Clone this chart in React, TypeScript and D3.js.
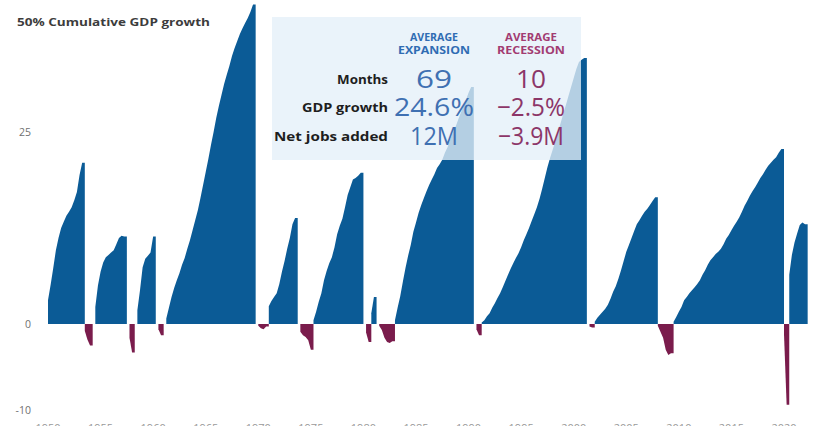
import React from "react";
import * as d3 from "d3";

// ---- data (quarterly cumulative real GDP change, % since cycle start) ----
const exp1950 = [3.1, 5.1, 7.3, 9.6, 11.2, 12.5, 13.3, 14.1, 14.6, 15.2, 16.1, 17.2, 19.4, 21.0];
const rec1953 = [-0.8, -1.8, -2.5];
const exp1954 = [2.2, 5.0, 6.8, 8.0, 8.7, 9.0, 9.3, 9.6, 10.4, 11.2, 11.5, 11.4];
const rec1957 = [-1.6, -3.3];
const exp1958 = [1.8, 4.4, 7.4, 8.5, 8.9, 9.3, 11.4];
const rec1960 = [-0.6, -1.3];
const exp1961 = [0.7, 2.1, 3.5, 4.7, 5.7, 6.6, 7.7, 8.6, 9.8, 10.9, 12.2, 13.5, 14.8, 16.4, 18.1, 19.8, 21.5, 23.3, 25.0, 28.2, 30.9, 33.4, 35.9, 38.0, 40.0, 42.3, 44.1, 45.7, 47.3, 48.6, 49.8, 50.9, 52.3, 54.0];
const rec1970 = [-0.2, -0.5, -0.6, -0.3];
const exp1971 = [2.3, 3.0, 3.5, 4.0, 5.2, 6.8, 8.2, 9.8, 11.2, 13.0, 13.8];
const rec1974 = [-0.9, -1.3, -1.5, -1.9, -3.0];
const exp1975 = [0.5, 1.6, 2.9, 4.0, 5.7, 6.9, 7.9, 8.7, 10.0, 11.7, 12.8, 13.7, 15.2, 16.8, 17.8, 18.8, 19.0, 19.3, 19.7];
const rec1980 = [-1.0, -2.1];
const exp1980 = [1.4, 3.5];
const rec1981 = [-0.2, -0.7, -1.6, -2.1, -2.2, -2.0];
const exp1983 = [0.5, 2.1, 3.6, 5.5, 7.3, 8.9, 10.3, 12.0, 13.2, 14.5, 15.5, 16.4, 17.3, 18.1, 18.8, 19.5, 20.3, 20.8, 21.4, 22.3, 23.0, 24.0, 24.9, 26.1, 27.7, 29.3, 30.7, 32.3, 33.9, 35.2];
const rec1990 = [-0.6, -1.3];
const exp1991 = [0.2, 0.5, 1.0, 1.4, 2.1, 2.7, 3.4, 4.0, 4.8, 5.6, 6.4, 7.2, 7.9, 8.6, 9.2, 10.0, 10.9, 11.7, 12.5, 13.4, 14.3, 15.2, 16.3, 17.6, 19.0, 20.4, 21.6, 22.7, 23.8, 25.0, 27.0, 29.1, 31.1, 33.2, 35.2, 37.3, 39.3, 40.9, 41.4, 41.8];
const rec2001 = [-0.3, -0.4];
const exp2002 = [0.3, 0.8, 1.2, 1.6, 2.0, 2.5, 3.3, 4.2, 4.9, 5.9, 7.0, 8.2, 9.4, 10.3, 11.2, 12.1, 13.0, 13.5, 14.1, 14.6, 15.0, 15.5, 16.0, 16.5];
const rec2008 = [-0.2, -0.9, -1.6, -3.0, -3.6, -3.4];
const exp2009 = [0.3, 0.9, 1.6, 2.2, 3.1, 3.5, 4.0, 4.4, 4.8, 5.2, 5.7, 6.4, 7.0, 7.7, 8.3, 8.7, 9.1, 9.4, 9.8, 10.4, 11.1, 11.6, 12.2, 12.8, 13.3, 13.9, 14.6, 15.4, 16.0, 16.7, 17.3, 17.8, 18.4, 19.0, 19.5, 20.1, 20.6, 21.0, 21.4, 21.7, 22.3, 22.8];
const rec2020 = [-1.2, -9.4];
const exp2020 = [6.4, 9.0, 10.6, 11.8, 12.9, 13.2, 13.0];

// first quarter (decimal year) of each phase
const expansionStarts = [1950.0, 1954.5, 1958.5, 1961.25, 1971.0, 1975.25, 1980.75, 1983.0, 1991.25, 2002.0, 2009.5, 2020.5];
const expansionSeries = [exp1950, exp1954, exp1958, exp1961, exp1971, exp1975, exp1980, exp1983, exp1991, exp2002, exp2009, exp2020];
const recessionStarts = [1953.5, 1957.75, 1960.5, 1970.0, 1974.0, 1980.25, 1981.5, 1990.75, 2001.5, 2008.0, 2020.0];
const recessionSeries = [rec1953, rec1957, rec1960, rec1970, rec1974, rec1980, rec1981, rec1990, rec2001, rec2008, rec2020];

const yTickValues = [25, 0, -10];
const xTickYears = [1950, 1955, 1960, 1965, 1970, 1975, 1980, 1985, 1990, 1995, 2000, 2005, 2010, 2015, 2020];

const rowLabels = ["Months", "GDP growth", "Net jobs added"];
const expansionStats = ["69", "24.6%", "12M"];
const recessionStats = ["10", "\u22122.5%", "\u22123.9M"];

const W = 813;
const H = 426;
const BLUE = "#0b5b96";
const MAROON = "#7a1c4c";
const FONT = "'Open Sans', 'Liberation Sans', sans-serif";

export default function App() {
  const x = d3.scaleLinear().domain([1950, 2020]).range([48, 784]);
  const y = d3.scaleLinear().domain([-10, 0, 25, 50]).range([410, 324, 132, 22]);

  const area = d3
    .area<{ t: number; v: number }>()
    .x((d) => x(d.t))
    .y0(() => y(0))
    .y1((d) => y(d.v))
    .curve(d3.curveLinear);

  const toPts = (start: number, vals: number[]) => {
    const pts = vals.map((v, i) => ({ t: start + i * 0.25, v }));
    pts.push({ t: start + vals.length * 0.25, v: vals[vals.length - 1] });
    return pts;
  };

  const rowLabelLen = [51, 86, 114];
  const expLen = [36, 80, 48];
  const recLen = [30, 68, 66];
  const baselines = [88, 116, 145];

  return (
    <svg width={W} height={H} style={{ position: "absolute", left: 0, top: 0, background: "#fff" }} fontFamily={FONT}>
      {/* expansions */}
      {expansionSeries.map((vals, i) => (
        <path key={"e" + i} d={area(toPts(expansionStarts[i], vals)) || ""} fill={BLUE} />
      ))}
      {/* recessions */}
      {recessionSeries.map((vals, i) => (
        <path key={"r" + i} d={area(toPts(recessionStarts[i], vals)) || ""} fill={MAROON} />
      ))}

      {/* y axis labels */}
      <text x={17} y={26} fontSize={11} fontWeight={700} fill="#3c3c3c" textLength={193} lengthAdjust="spacingAndGlyphs">
        50% Cumulative GDP growth
      </text>
      {yTickValues.map((v) => (
        <text key={v} x={31} y={y(v) + 4} fontSize={10.5} fill="#707070" textAnchor="end">
          {v}
        </text>
      ))}

      {/* x axis labels (cut off at bottom edge) */}
      {xTickYears.map((yr) => (
        <text key={yr} x={x(yr)} y={432} fontSize={11} fill="#9a9a9a" textAnchor="middle">
          {yr}
        </text>
      ))}

      {/* stats box */}
      <rect x={272} y={17} width={309} height={143} fill="rgba(228,240,248,0.78)" />
      <text x={434} y={41} fontSize={10.5} fontWeight={700} fill="#2f6cb3" textAnchor="middle" textLength={48} lengthAdjust="spacingAndGlyphs">AVERAGE</text>
      <text x={434} y={54} fontSize={10.5} fontWeight={700} fill="#2f6cb3" textAnchor="middle" textLength={72} lengthAdjust="spacingAndGlyphs">EXPANSION</text>
      <text x={531} y={41} fontSize={10.5} fontWeight={700} fill="#a23c72" textAnchor="middle" textLength={52} lengthAdjust="spacingAndGlyphs">AVERAGE</text>
      <text x={531} y={54} fontSize={10.5} fontWeight={700} fill="#a23c72" textAnchor="middle" textLength={68} lengthAdjust="spacingAndGlyphs">RECESSION</text>

      {rowLabels.map((lab, i) => (
        <text key={lab} x={388} y={baselines[i] - 4} fontSize={13} fontWeight={700} fill="#1e1e1e" textAnchor="end" textLength={rowLabelLen[i]} lengthAdjust="spacingAndGlyphs">
          {lab}
        </text>
      ))}
      {expansionStats.map((s, i) => (
        <text key={"es" + i} x={434} y={baselines[i]} fontSize={25} fill="#3f70b2" textAnchor="middle" textLength={expLen[i]} lengthAdjust="spacingAndGlyphs">
          {s}
        </text>
      ))}
      {recessionStats.map((s, i) => (
        <text key={"rs" + i} x={531} y={baselines[i]} fontSize={25} fill="#8c3668" textAnchor="middle" textLength={recLen[i]} lengthAdjust="spacingAndGlyphs">
          {s}
        </text>
      ))}
    </svg>
  );
}
